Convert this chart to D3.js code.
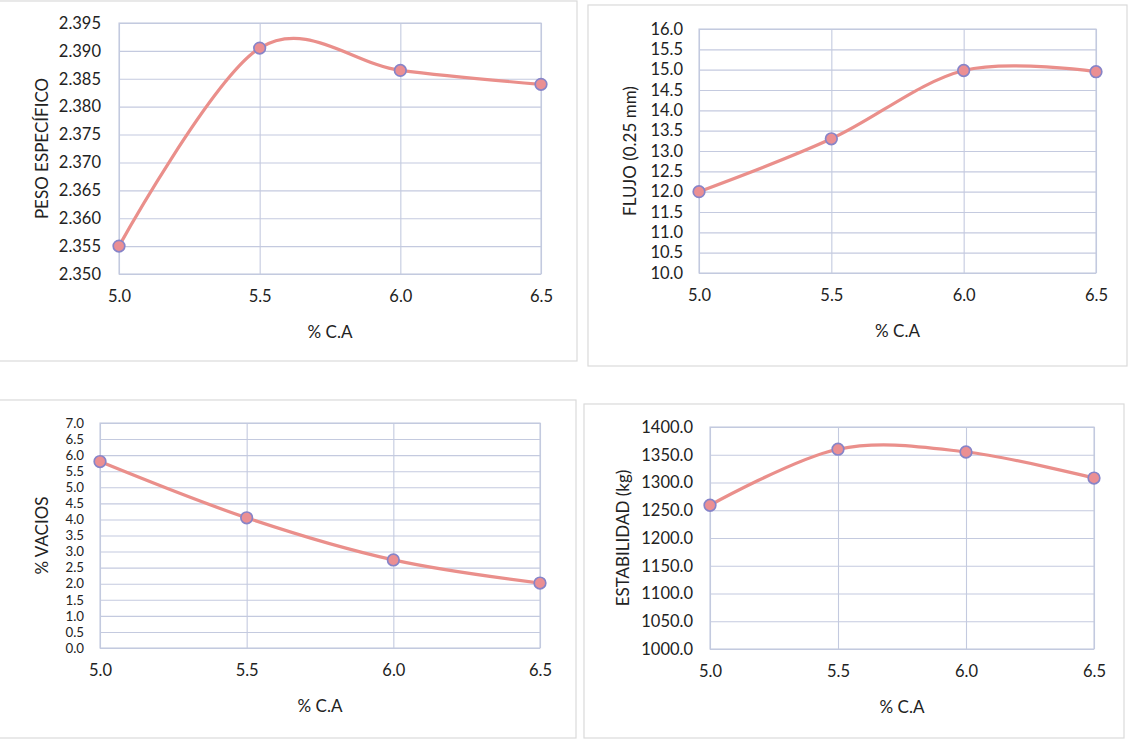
<!DOCTYPE html>
<html>
<head>
<meta charset="utf-8">
<script src="https://cdn.jsdelivr.net/npm/d3@7/dist/d3.min.js"></script>
<style>
  html, body { margin: 0; padding: 0; background: #ffffff; }
  svg { display: block; }
  text { font-family: Lato, "Open Sans", "Noto Sans", sans-serif; fill: #222222; }
</style>
</head>
<body>
<svg id="chart" width="1133" height="740"></svg>
<script>
// Asphalt content (% C.A) tested in the Marshall series
const pctCA = [5.0, 5.5, 6.0, 6.5];
const xTicks = [5.0, 5.5, 6.0, 6.5];

// Measured properties for each asphalt content
const pesoEspecifico = [2.355, 2.3905, 2.3865, 2.384];
const flujo = [12.0, 13.3, 14.98, 14.95];
const vacios = [5.8, 4.05, 2.74, 2.02];
const estabilidad = [1259, 1360, 1355, 1308];

// Y-axis tick values
const pesoTicks = [2.350, 2.355, 2.360, 2.365, 2.370, 2.375, 2.380, 2.385, 2.390, 2.395];
const flujoTicks = [10.0, 10.5, 11.0, 11.5, 12.0, 12.5, 13.0, 13.5, 14.0, 14.5, 15.0, 15.5, 16.0];
const vaciosTicks = [0.0, 0.5, 1.0, 1.5, 2.0, 2.5, 3.0, 3.5, 4.0, 4.5, 5.0, 5.5, 6.0, 6.5, 7.0];
const estabilidadTicks = [1000, 1050, 1100, 1150, 1200, 1250, 1300, 1350, 1400];

const svg = d3.select("#chart");

const GRID = "#c4cadf";
const LINE = "#ea8f8b";
const DOT_FILL = "#eb8f93";
const DOT_STROKE = "#8784c8";
const TICK_SIZE = 16.5;
const TITLE_SIZE = 17;

function drawPanel(cfg) {
  const g = svg.append("g");
  const yTickSize = cfg.yTickSize || TICK_SIZE;

  // chart-area frame
  g.append("rect")
    .attr("x", cfg.frame[0]).attr("y", cfg.frame[1])
    .attr("width", cfg.frame[2]).attr("height", cfg.frame[3])
    .attr("fill", "none").attr("stroke", "#dadada").attr("stroke-width", 1.2);

  const x = d3.scaleLinear().domain([pctCA[0], pctCA[pctCA.length - 1]]).range([cfg.left, cfg.right]);
  const y = d3.scaleLinear().domain([cfg.ticks[0], cfg.ticks[cfg.ticks.length - 1]]).range([cfg.bottom, cfg.top]);

  // horizontal gridlines + y labels
  const yAxis = d3.axisLeft(y).tickValues(cfg.ticks).tickFormat(cfg.fmt)
    .tickSize(-(cfg.right - cfg.left)).tickPadding(cfg.pad);
  const ya = g.append("g").attr("transform", `translate(${cfg.left},0)`).call(yAxis);
  ya.select(".domain").remove();
  ya.selectAll(".tick line").attr("stroke", GRID).attr("stroke-width", 1.1);
  ya.selectAll(".tick text").attr("font-size", yTickSize).attr("fill", "#222222")
    .style("font-family", "Lato, 'Open Sans', sans-serif");

  // vertical gridlines + x labels
  const xAxis = d3.axisBottom(x).tickValues(xTicks).tickFormat(d3.format(".1f"))
    .tickSize(-(cfg.bottom - cfg.top)).tickPadding(16);
  const xa = g.append("g").attr("transform", `translate(0,${cfg.bottom})`).call(xAxis);
  xa.select(".domain").remove();
  xa.selectAll(".tick line").attr("stroke", GRID).attr("stroke-width", 1.1);
  xa.selectAll(".tick text").attr("font-size", TICK_SIZE).attr("fill", "#222222")
    .style("font-family", "Lato, 'Open Sans', sans-serif");

  // plot-area border
  g.append("rect")
    .attr("x", cfg.left).attr("y", cfg.top)
    .attr("width", cfg.right - cfg.left).attr("height", cfg.bottom - cfg.top)
    .attr("fill", "none").attr("stroke", GRID).attr("stroke-width", 1.1);

  // smoothed series line
  const pts = pctCA.map((d, i) => [d, cfg.values[i]]);
  const line = d3.line().x(d => x(d[0])).y(d => y(d[1])).curve(d3.curveCardinal.tension(0));
  g.append("path").datum(pts)
    .attr("d", line).attr("fill", "none")
    .attr("stroke", LINE).attr("stroke-width", 3.2).attr("stroke-linecap", "round");

  // markers
  g.selectAll("circle.pt").data(pts).join("circle")
    .attr("class", "pt")
    .attr("cx", d => x(d[0])).attr("cy", d => y(d[1])).attr("r", 5.8)
    .attr("fill", DOT_FILL).attr("stroke", DOT_STROKE).attr("stroke-width", 1.7);

  // axis titles
  g.append("text")
    .attr("x", (cfg.left + cfg.right) / 2).attr("y", cfg.bottom + 57)
    .attr("text-anchor", "middle").attr("dominant-baseline", "central")
    .attr("font-size", TITLE_SIZE).text("% C.A");

  g.append("text")
    .attr("transform", `translate(${cfg.titleX},${(cfg.top + cfg.bottom) / 2}) rotate(-90)`)
    .attr("text-anchor", "middle").attr("dominant-baseline", "central")
    .attr("font-size", TITLE_SIZE).text(cfg.title);
}

drawPanel({
  values: pesoEspecifico, ticks: pesoTicks, fmt: d3.format(".3f"),
  title: "PESO ESPECÍFICO",
  left: 119, right: 541, top: 23, bottom: 274, titleX: 41, pad: 18,
  frame: [-2, 1, 579, 360]
});

drawPanel({
  values: flujo, ticks: flujoTicks, fmt: d3.format(".1f"),
  title: "FLUJO (0.25 mm)",
  left: 699, right: 1096, top: 29, bottom: 273, titleX: 629, pad: 16,
  frame: [588, 5, 539, 361]
});

// densely ticked axis: slightly smaller labels so neighbours don't collide
drawPanel({
  values: vacios, ticks: vaciosTicks, fmt: d3.format(".1f"),
  title: "% VACIOS",
  left: 100, right: 540, top: 423, bottom: 648, titleX: 41, pad: 16,
  yTickSize: 13.3,
  frame: [-2, 400, 578, 338]
});

drawPanel({
  values: estabilidad, ticks: estabilidadTicks, fmt: d3.format(".1f"),
  title: "ESTABILIDAD (kg)",
  left: 710, right: 1094, top: 427, bottom: 649, titleX: 622, pad: 17,
  frame: [584, 404, 540, 334]
});
</script>
</body>
</html>
